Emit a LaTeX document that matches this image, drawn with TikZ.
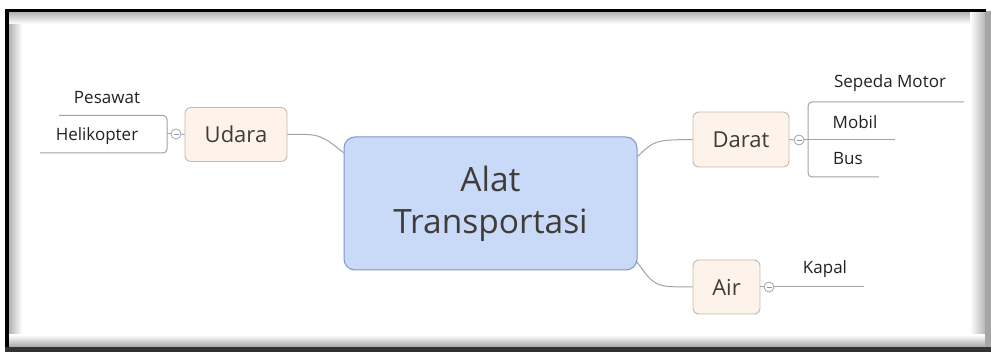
\documentclass[tikz,border=0pt]{standalone}
\usepackage{fontspec}
\setmainfont{Open Sans}
\definecolor{cfill}{HTML}{C9DAF8}
\definecolor{cdraw}{HTML}{7C97C6}
\definecolor{pfill}{HTML}{FDF3EA}
\definecolor{pdraw}{HTML}{C4B9AE}
\definecolor{lgray}{HTML}{A3A3A3}
\definecolor{txt}{HTML}{222222}
\definecolor{ctxt}{HTML}{403C38}
\begin{document}
\begin{tikzpicture}[x=1pt,y=-1pt,
  central/.style={draw=cdraw,line width=1pt,fill=cfill,rounded corners=11pt,minimum width=293pt,minimum height=133pt,inner sep=0pt,text=ctxt,align=center,font=\fontsize{33.5}{42}\selectfont},
  topic/.style={draw=pdraw,line width=0.9pt,fill=pfill,rounded corners=6pt,inner sep=0pt,text=ctxt,font=\fontsize{22}{24}\selectfont},
  leaf/.style={inner sep=0pt,text=txt,font=\fontsize{17}{19}\selectfont},
  collapse/.style={circle,draw=lgray,fill=white,line width=0.8pt,minimum size=10pt,inner sep=0pt},
  conn/.style={draw=lgray,line width=1pt}]
\useasboundingbox (0,0) rectangle (991,352);
\fill[white] (0,0) rectangle (991,352);
% frame shadows
\shade[left color=gray!60,right color=white] (9,12) rectangle (22,347);
\shade[top color=gray!60,bottom color=white] (9,12) rectangle (980,24);
\shade[left color=white,right color=gray!80] (970,12) rectangle (991,347);
\shade[top color=white,bottom color=gray!70] (9,335) rectangle (991,347);
\fill[black] (5,9) rectangle (9,352);
\fill[black] (5,9) rectangle (986,12);
\fill[black!80] (5,347) rectangle (991,352);
\fill[gray!70] (985,12) rectangle (991,347);

% nodes
\node[central] (c) at (490.5,203.5) {Alat\\Transportasi};
\node[topic,minimum width=102pt,minimum height=54pt] (udara) at (236,134.5) {Udara};
\node[topic,minimum width=96pt,minimum height=55pt] (darat) at (741,139.5) {Darat};
\node[topic,minimum width=67pt,minimum height=54pt] (air) at (726.5,287) {Air};

\coordinate (cl) at (344,153);
\coordinate (cr) at (637,157);
\coordinate (cb) at (637,262);

\draw[conn] (udara.east) .. controls (320,134) .. (cl);
\draw[conn] (cr) .. controls (655,140) .. (darat.west);
\draw[conn] (cb) .. controls (655,287) .. (air.west);

% collapse circles
\node[collapse] (cu) at (176,134) {};
\node[collapse] (cd) at (799,140) {};
\node[collapse] (ca) at (769,287) {};
\foreach \n in {cu,cd,ca}{\draw[cdraw,line width=0.8pt] ([xshift=-2.5pt]\n.center) -- ([xshift=2.5pt]\n.center);}

% brackets
\coordinate (ub) at (167,134);
\coordinate (db) at (808,140);
\coordinate (pesEnd) at (59,115.5);
\coordinate (helEnd) at (40,153);
\coordinate (spEnd) at (964,102);
\coordinate (moEnd) at (895,140);
\coordinate (buEnd) at (879,177);
\coordinate (kaEnd) at (864,287);
\draw[conn] (udara.west) -- (cu.east);
\draw[conn] (cu.west) -- (ub);
\draw[conn,rounded corners=4pt] (pesEnd) -- (ub |- pesEnd) -- (ub |- helEnd) -- (helEnd);
\draw[conn] (darat.east) -- (cd.west);
\draw[conn] (cd.east) -- (moEnd);
\draw[conn,rounded corners=4pt] (spEnd) -- (db |- spEnd) -- (db |- buEnd) -- (buEnd);
\draw[conn] (air.east) -- (ca.west);
\draw[conn] (ca.east) -- (kaEnd);

% leaves
\node[leaf] (pesawat) at (107,98) {Pesawat};
\node[leaf] (heli) at (97,136) {Helikopter};
\node[leaf] (sepeda) at (890,83) {Sepeda Motor};
\node[leaf] (mobil) at (855,122) {Mobil};
\node[leaf] (bus) at (848,159) {Bus};
\node[leaf] (kapal) at (825,269) {Kapal};
\end{tikzpicture}
\end{document}
